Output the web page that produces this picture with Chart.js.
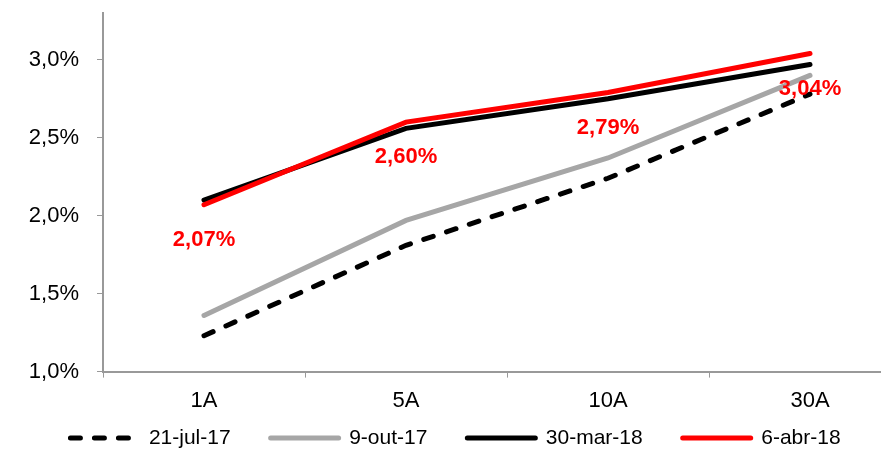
<!DOCTYPE html>
<html>
<head>
<meta charset="utf-8">
<script src="https://cdn.jsdelivr.net/npm/chart.js@4.4.1/dist/chart.umd.min.js"></script>
<style>
    html, body { margin: 0; padding: 0; background: #fff; overflow: hidden; }
    #wrap { width: 881px; height: 452px; overflow: hidden; position: relative; }
</style>
</head>
<body>
<div id="wrap"><canvas id="myChart" width="912" height="495"></canvas></div>
<script>
// Curve data (% per maturity)
const maturities = ['1A', '5A', '10A', '30A'];
const seriesNames = ['21-jul-17', '9-out-17', '30-mar-18', '6-abr-18'];
const jul17 = [1.23, 1.81, 2.24, 2.78];
const out17 = [1.36, 1.97, 2.37, 2.90];
const mar18 = [2.10, 2.56, 2.75, 2.97];
const abr18 = [2.07, 2.60, 2.79, 3.04];
const yTicks = [1.0, 1.5, 2.0, 2.5, 3.0];

const fontFamily = "'Liberation Sans', Arial, sans-serif";
const fmt = (v, d) => v.toFixed(d).replace('.', ',') + '%';

// red value labels under the last curve
const valueLabels = {
    id: 'valueLabels',
    afterDatasetsDraw(chart) {
        const meta = chart.getDatasetMeta(3);
        const ctx = chart.ctx;
        ctx.save();
        ctx.font = 'bold 22px ' + fontFamily;
        ctx.fillStyle = '#ff0000';
        ctx.textAlign = 'center';
        ctx.textBaseline = 'middle';
        meta.data.forEach((pt, i) => {
            ctx.fillText(fmt(abr18[i], 2), pt.x, pt.y + 35);
        });
        ctx.restore();
    }
};

// pull the legend up closer to the axis labels
const legendShift = {
    id: 'legendShift',
    afterLayout(chart) {
        const lg = chart.legend;
        const dy = chart.chartArea.bottom + 16 - lg.top;
        lg.top += dy;
        lg.bottom += dy;
    }
};

function line(label, data, color, order, dash) {
    return {
        label: label,
        data: data,
        borderColor: color,
        backgroundColor: color,
        borderWidth: 5,
        borderDash: dash || [],
        borderCapStyle: 'round',
        pointRadius: 0,
        tension: 0,
        order: order
    };
}

const config = {
    type: 'line',
    data: {
        labels: maturities,
        datasets: [
            line(seriesNames[0], jul17, '#000000', 4, [10, 14]),
            line(seriesNames[1], out17, '#a6a6a6', 3),
            line(seriesNames[2], mar18, '#000000', 2),
            line(seriesNames[3], abr18, '#ff0000', 1)
        ]
    },
    options: {
        responsive: false,
        animation: false,
        layout: { padding: { top: 13, left: 0, right: 1, bottom: 0 } },
        scales: {
            x: {
                offset: true,
                grid: { offset: true, drawOnChartArea: false, tickLength: 6, color: '#999999' },
                border: { color: '#999999', width: 2 },
                ticks: { color: '#000', padding: 10, font: { family: fontFamily, size: 22 } }
            },
            y: {
                min: 1.0,
                max: 3.3,
                bounds: 'data',
                grid: { drawOnChartArea: false, tickLength: 6, color: '#999999' },
                border: { color: '#999999', width: 2 },
                ticks: {
                    stepSize: 0.5,
                    color: '#000',
                    padding: 18,
                    font: { family: fontFamily, size: 22 },
                    callback: v => fmt(v, 1)
                },
                afterBuildTicks: s => { s.ticks = yTicks.map(v => ({ value: v })); },
                afterFit: s => { s.width = 103; s.paddingTop = 0; }
            }
        },
        plugins: {
            legend: {
                position: 'bottom',
                reverse: true,
                labels: {
                    usePointStyle: true,
                    pointStyle: 'line',
                    pointStyleWidth: 68,
                    padding: 40,
                    color: '#000',
                    font: { family: fontFamily, size: 21 },
                    generateLabels: chart => Chart.defaults.plugins.legend.labels.generateLabels(chart).map(item => {
                        const ds = chart.data.datasets[item.datasetIndex];
                        item.lineDash = ds.borderDash;
                        item.lineCap = 'round';
                        item.lineWidth = ds.borderWidth;
                        item.strokeStyle = ds.borderColor;
                        return item;
                    })
                }
            },
            tooltip: { enabled: false }
        }
    },
    plugins: [valueLabels, legendShift]
};

const ctx = document.getElementById('myChart').getContext('2d');
new Chart(ctx, config);
</script>
</body>
</html>
